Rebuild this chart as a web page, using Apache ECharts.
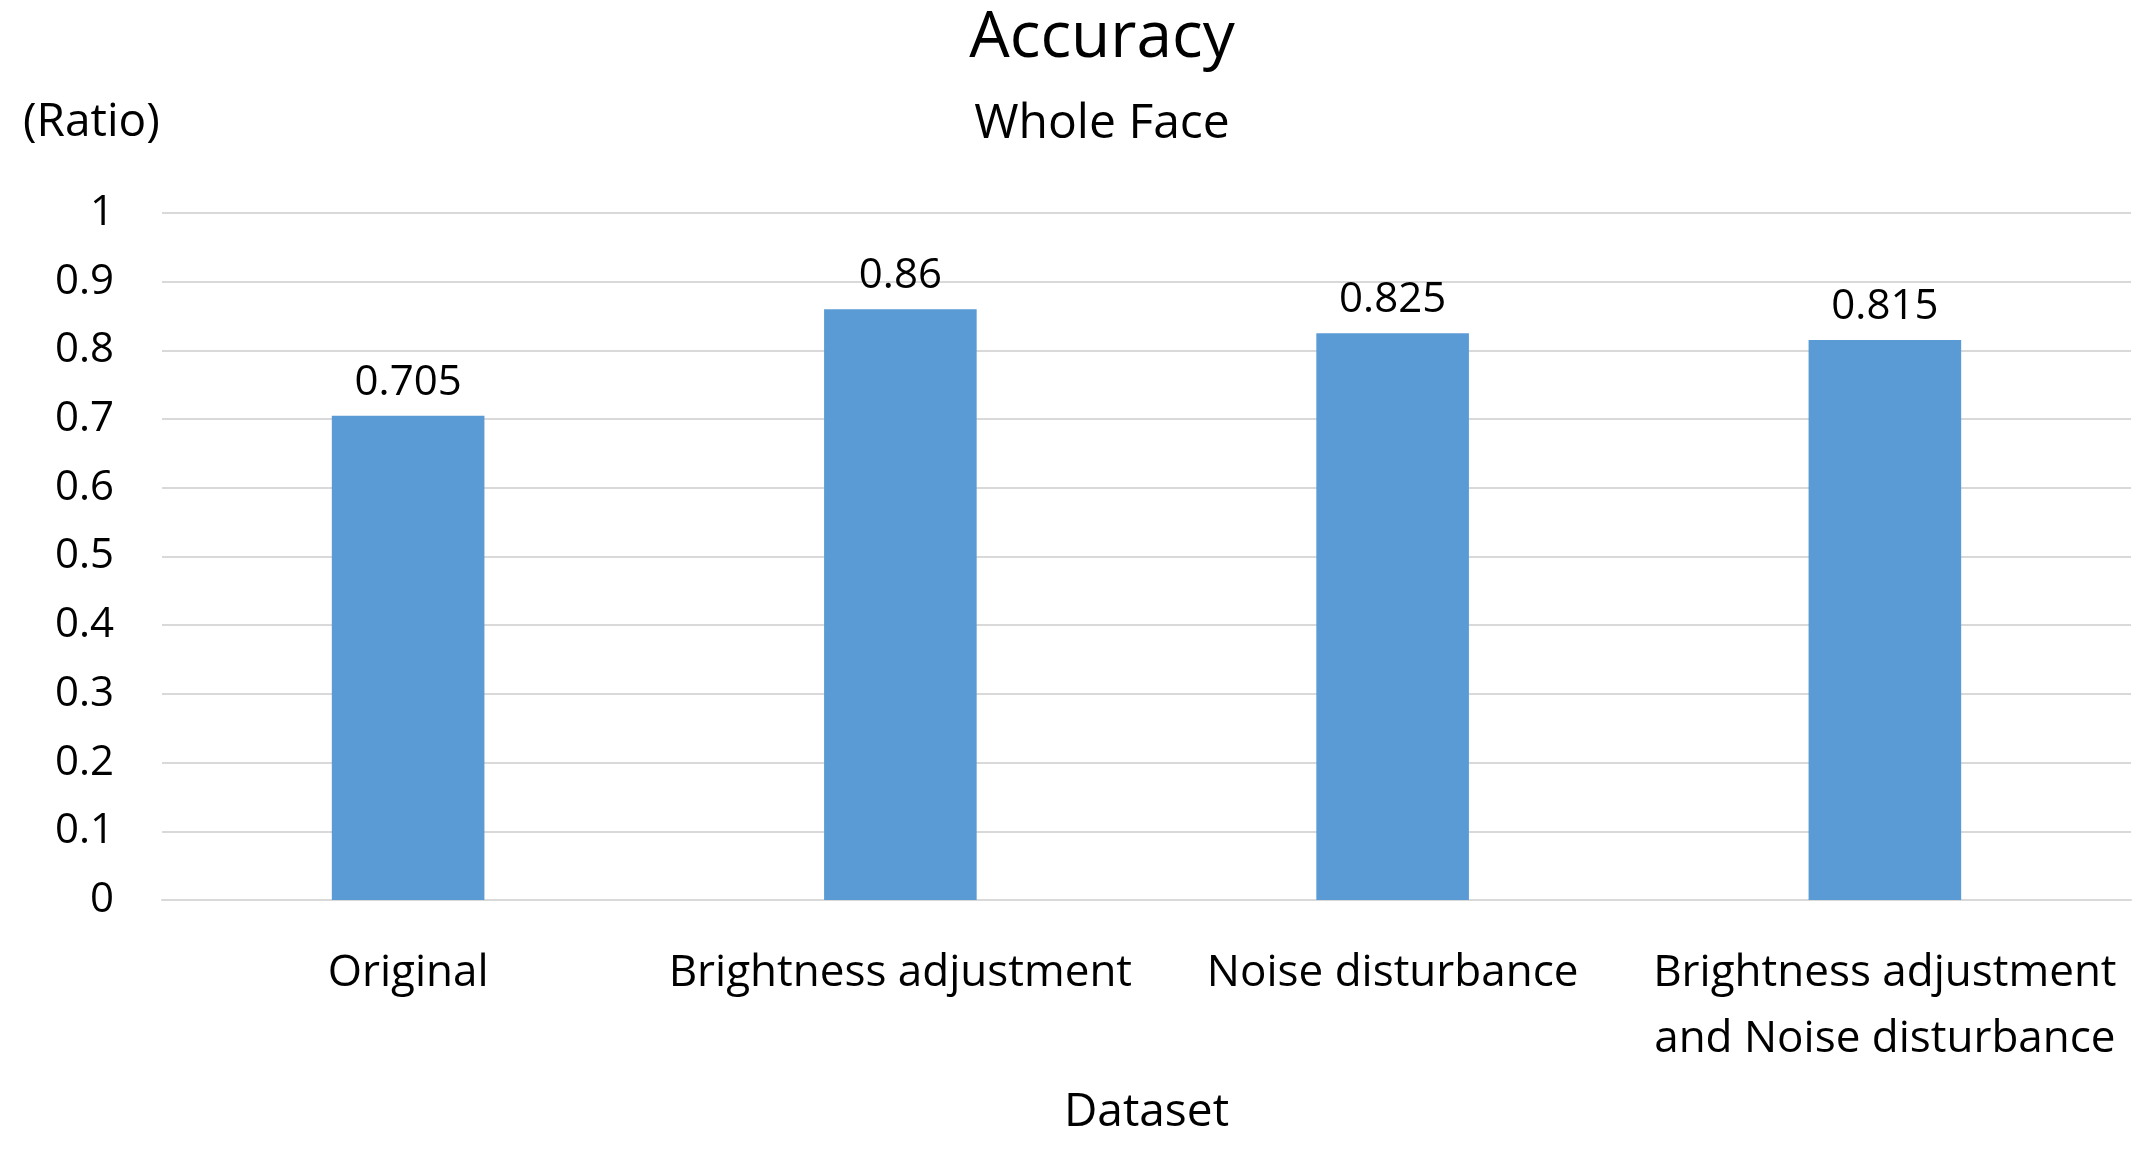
<!DOCTYPE html><html><head><meta charset="utf-8"><script src="https://cdn.jsdelivr.net/npm/echarts@6/dist/echarts.min.js"></script>
<style>html,body{margin:0;background:#fff}#c{width:2145px;height:1152px}</style></head><body><div id="c"></div><script>
const categories=["Original","Brightness adjustment","Noise disturbance","Brightness adjustment\nand Noise disturbance"];
const values=[0.705,0.86,0.825,0.815];
const yTicks={min:0,max:1,interval:0.1};
const F="'Open Sans', 'Noto Sans', sans-serif";
const c=echarts.init(document.getElementById('c'));
c.setOption({
 title:[{text:"Accuracy",left:1097,top:2,textAlign:'center',textStyle:{fontFamily:F,fontSize:64,fontWeight:'normal',color:'#000'}},
 {text:"Whole Face",left:1097,top:95,textAlign:'center',textStyle:{fontFamily:F,fontSize:48,fontWeight:'normal',color:'#000'}},
 {text:"(Ratio)",left:18,top:95,textStyle:{fontFamily:F,fontSize:46,fontWeight:'normal',color:'#000'}}],
 grid:{left:162,right:14,top:213,bottom:252},
 xAxis:{type:'category',data:categories,name:'Dataset',nameLocation:'middle',nameGap:190,
  nameTextStyle:{fontFamily:F,fontSize:46,color:'#000'},
  axisLine:{lineStyle:{color:'#d9d9d9',width:2}},axisTick:{show:false},
  axisLabel:{fontFamily:F,fontSize:44,color:'#000',margin:40,lineHeight:66,interval:0}},
 yAxis:{type:'value',min:yTicks.min,max:yTicks.max,interval:yTicks.interval,
  axisLabel:{fontFamily:F,fontSize:42,color:'#000',margin:48,formatter:v=>String(+v.toFixed(1))},
  splitLine:{lineStyle:{color:'#d9d9d9',width:2}},axisLine:{show:false},axisTick:{show:false}},
 series:[{type:'bar',data:values,barWidth:'31%',itemStyle:{color:'#5b9bd5'},
  label:{show:true,position:'top',distance:12,fontFamily:F,fontSize:42,color:'#000'}}]
});
</script></body></html>
